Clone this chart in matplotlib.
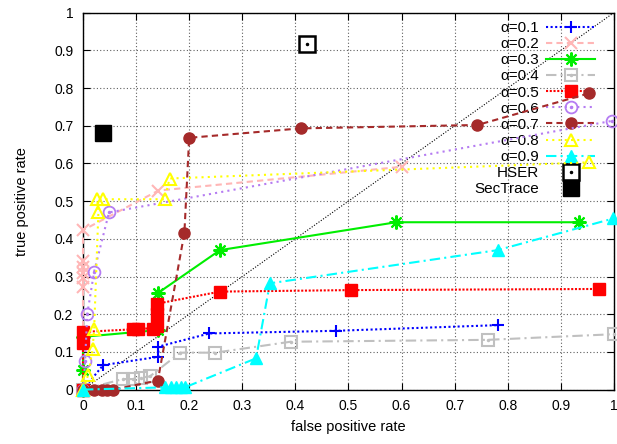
import numpy as np
import matplotlib
matplotlib.use('Agg')
import matplotlib.pyplot as plt
from matplotlib.legend_handler import HandlerTuple

plt.rcParams['font.family'] = ['Liberation Sans', 'DejaVu Sans']
plt.rcParams['font.size'] = 10

# ROC points for each alpha
fpr_01 = [0, 0.038, 0.142, 0.142, 0.238, 0.476, 0.781]
tpr_01 = [0, 0.065, 0.087, 0.114, 0.149, 0.156, 0.171]

fpr_02 = [0, 0, 0, 0, 0, 0, 0, 0.142, 0.6]
tpr_02 = [0, 0.273, 0.295, 0.31, 0.325, 0.34, 0.423, 0.528, 0.591]

fpr_03 = [0, 0, 0, 0.142, 0.142, 0.258, 0.59, 0.934]
tpr_03 = [0, 0.052, 0.14, 0.158, 0.257, 0.37, 0.444, 0.444]

fpr_04 = [0, 0.075, 0.094, 0.11, 0.126, 0.183, 0.249, 0.391, 0.762, 1.0]
tpr_04 = [0, 0.028, 0.028, 0.032, 0.035, 0.098, 0.098, 0.127, 0.132, 0.147]

fpr_05 = [0, 0, 0, 0.095, 0.104, 0.132, 0.14, 0.14, 0.14, 0.258, 0.504, 0.972]
tpr_05 = [0, 0.123, 0.153, 0.16, 0.162, 0.162, 0.17, 0.2, 0.228, 0.26, 0.264, 0.267]

fpr_06 = [0, 0.004, 0.008, 0.021, 0.049, 0.997]
tpr_06 = [0, 0.076, 0.2, 0.313, 0.47, 0.713]

fpr_07 = [0, 0.02, 0.035, 0.045, 0.057, 0.141, 0.191, 0.2, 0.41, 0.743, 0.953]
tpr_07 = [0, 0, 0, 0, 0, 0.024, 0.416, 0.668, 0.693, 0.702, 0.786]

fpr_08 = [0, 0.01, 0.018, 0.021, 0.029, 0.027, 0.038, 0.154, 0.163, 0.953]
tpr_08 = [0, 0.04, 0.107, 0.16, 0.47, 0.505, 0.505, 0.505, 0.56, 0.603]

fpr_09 = [0, 0.155, 0.165, 0.175, 0.185, 0.192, 0.326, 0.352, 0.781, 0.999]
tpr_09 = [0, 0.006, 0.006, 0.006, 0.006, 0.006, 0.083, 0.282, 0.37, 0.454]

hser_fpr, hser_tpr = [0.421], [0.918]
sectrace_fpr, sectrace_tpr = [0.038], [0.68]

labels = ['α=0.1', 'α=0.2', 'α=0.3', 'α=0.4', 'α=0.5',
          'α=0.6', 'α=0.7', 'α=0.8', 'α=0.9']
ticks = [0, 0.1, 0.2, 0.3, 0.4, 0.5, 0.6, 0.7, 0.8, 0.9, 1]

# style of each series (gnuplot-like)
styles = [
    dict(color='#0000ff', ls=(0, (1, 1.2)), marker='+', ms=9, mew=1.5, mfc='none'),
    dict(color='#ffb6b6', ls=(0, (3, 2)), marker='x', ms=8, mew=1.5, mfc='none'),
    dict(color='#00ee00', ls='-', marker=(8, 2, 0), ms=10, mew=1.5, mfc='none'),
    dict(color='#c0c0c0', ls=(0, (5, 2, 1, 2)), marker='s', ms=8, mew=1.5, mfc='none'),
    dict(color='#ff0000', ls=(0, (1, 0.8)), marker='s', ms=9, mew=1.0, mfc='#ff0000'),
    dict(color='#b57cf2', ls=(0, (1, 2)), marker='o', ms=8.5, mew=1.3, mfc='none'),
    dict(color='#a52a2a', ls=(0, (3, 2)), marker='o', ms=8, mew=1.0, mfc='#a52a2a'),
    dict(color='#ffff00', ls=(0, (1, 2)), marker='^', ms=9, mew=1.5, mfc='none'),
    dict(color='#00ffff', ls=(0, (5, 2, 1, 2)), marker='^', ms=8, mew=1.0, mfc='#00ffff'),
]
dotted_centres = {3, 5}

fprs = [fpr_01, fpr_02, fpr_03, fpr_04, fpr_05, fpr_06, fpr_07, fpr_08, fpr_09]
tprs = [tpr_01, tpr_02, tpr_03, tpr_04, tpr_05, tpr_06, tpr_07, tpr_08, tpr_09]

fig = plt.figure(figsize=(6.17, 4.44), dpi=100)
ax = fig.add_axes([0.1345, 0.1225, 0.8605, 0.849])

ax.plot([0, 1], [0, 1], color='black', ls=(0, (1, 1.5)), lw=0.8, zorder=1)

handles = []
for i in range(9):
    st = styles[i]
    h, = ax.plot(fprs[i], tprs[i], color=st['color'], ls=st['ls'], lw=1.5,
                 marker=st['marker'], ms=st['ms'], mew=st['mew'],
                 mfc=st['mfc'], mec=st['color'], clip_on=False, zorder=3 + i)
    if i in dotted_centres:
        d, = ax.plot(fprs[i], tprs[i], ls='none', marker='o', ms=1.5,
                     color=st['color'], clip_on=False, zorder=3 + i)
        handles.append((h, d))
    else:
        handles.append(h)

h1, = ax.plot(hser_fpr, hser_tpr, ls='none', marker='s', ms=11, mew=1.8,
              mfc='white', mec='black', clip_on=False, zorder=20)
h2, = ax.plot(hser_fpr, hser_tpr, ls='none', marker='o', ms=1.5,
              color='black', clip_on=False, zorder=21)
handles.append((h1, h2))
h3, = ax.plot(sectrace_fpr, sectrace_tpr, ls='none', marker='s', ms=12,
              color='black', clip_on=False, zorder=20)
handles.append(h3)

ax.set_xlim(0, 1)
ax.set_ylim(0, 1)
ax.set_xticks(ticks)
ax.set_yticks(ticks)
ax.set_xticklabels(['%g' % t for t in ticks])
ax.set_yticklabels(['%g' % t for t in ticks])
ax.tick_params(direction='in', top=True, right=True, length=5, width=0.8,
               pad=7, labelsize=10)
ax.grid(True, color='#606060', ls=(0, (1, 2)), lw=0.8)
for s in ax.spines.values():
    s.set_linewidth(1.0)

ax.set_xlabel('false positive rate', fontsize=10.5, labelpad=5)
ax.set_ylabel('true positive rate', fontsize=10.5, labelpad=18)

leg = ax.legend(handles, labels + ['HSER', 'SecTrace'],
                handler_map={tuple: HandlerTuple(ndivide=1)},
                loc='upper right', bbox_to_anchor=(0.965, 0.978),
                markerfirst=False, frameon=False, borderpad=0,
                borderaxespad=0, handlelength=3.2, handletextpad=0.5,
                labelspacing=0.14, fontsize=11, numpoints=1)

fig.savefig('out.png', dpi=100)
